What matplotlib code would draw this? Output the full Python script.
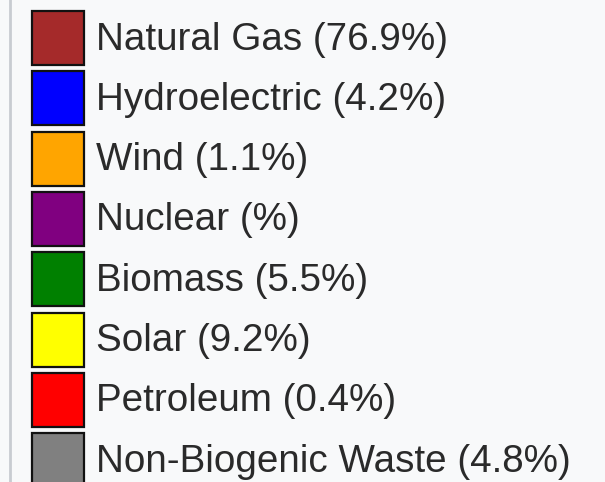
import matplotlib

matplotlib.use("Agg")
import matplotlib.pyplot as plt

labels = ["Natural Gas", "Hydroelectric", "Wind", "Nuclear", "Biomass",
          "Solar", "Petroleum", "Non-Biogenic Waste"]
shares = ["76.9", "4.2", "1.1", "", "5.5", "9.2", "0.4", "4.8"]
colors = ["#a52a2a", "#0000ff", "#ffa500", "#800080", "#008000",
          "#ffff00", "#ff0000", "#808080"]

W, H = 605, 482
fig = plt.figure(figsize=(W / 100, H / 100), dpi=100)
fig.patch.set_facecolor("#f8f9fa")
ax = fig.add_axes([0, 0, 1, 1])
ax.set_xlim(0, W)
ax.set_ylim(H, 0)
ax.axis("off")

# left border of the legend box
ax.axvline(9.5, color="#c8ccd1", lw=2)

step = 60.3
tops = [11 + step * i for i in range(len(labels))]
ax.bar([58] * len(labels), [54] * len(labels), width=52, bottom=tops,
       color=colors, edgecolor="#111111", linewidth=1.6)

for top, name, pct in zip(tops, labels, shares):
    ax.text(96, top + 38.5, f"{name} ({pct}%)", fontsize=27.8,
            family="Liberation Sans", color="#2a2a2a", va="baseline")

fig.savefig("out.png", dpi=100, facecolor=fig.get_facecolor())
